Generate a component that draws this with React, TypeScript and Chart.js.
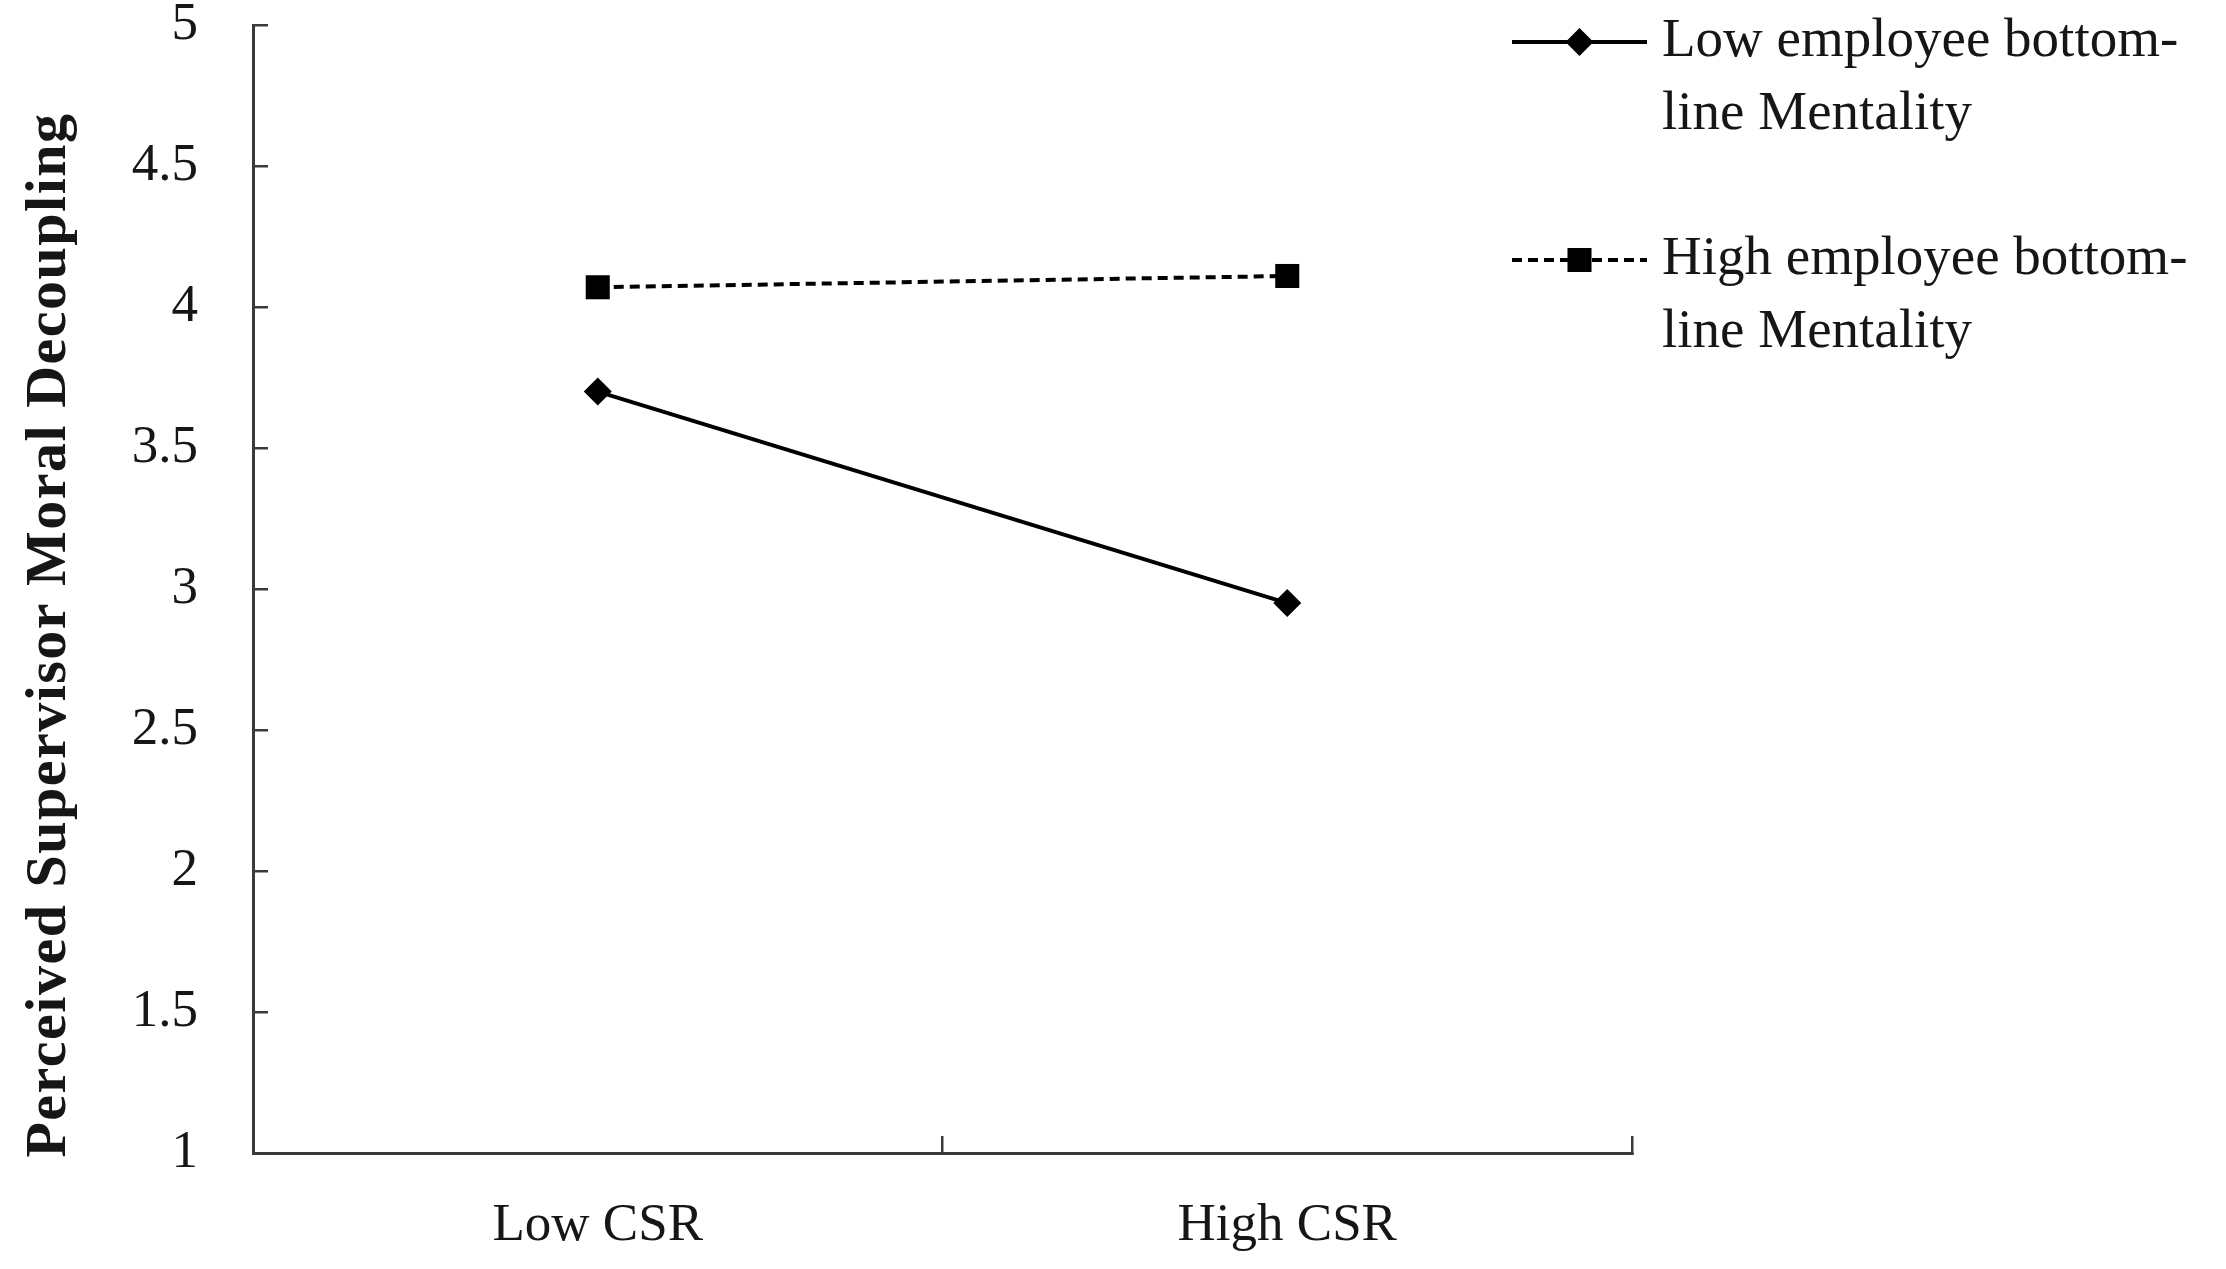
import React, { useEffect, useRef } from 'react';
import { Chart, registerables } from 'chart.js';
import { drawPoint } from 'chart.js/helpers';

Chart.register(...registerables);

// values
const categories = ['Low CSR', 'High CSR'];
const lowBlmValues = [3.7, 2.95];
const highBlmValues = [4.07, 4.11];
const seriesNames = ['Low employee bottom-line Mentality', 'High employee bottom-line Mentality'];
const legendLines = [
  ['Low employee bottom-', 'line Mentality'],
  ['High employee bottom-', 'line Mentality'],
];
const yTicks = [1, 1.5, 2, 2.5, 3, 3.5, 4, 4.5, 5];
const yTitle = 'Perceived Supervisor Moral Decoupling';

const FONT = '"Liberation Serif", "Times New Roman", serif';
const AXIS_COLOR = '#3a3a3a';
const TEXT_COLOR = '#161616';

// legend on the right, two-line labels
const sideLegend = {
  id: 'sideLegend',
  afterDraw(chart: any) {
    const { ctx, chartArea } = chart;
    const x0 = chartArea.right - 120;
    const x1 = x0 + 135;
    const textX = x1 + 15;
    const rows = [42, 260];
    ctx.save();
    chart.data.datasets.forEach((ds: any, i: number) => {
      const y = rows[i];
      ctx.strokeStyle = ds.borderColor;
      ctx.lineWidth = ds.borderWidth;
      ctx.setLineDash(ds.borderDash || []);
      ctx.beginPath();
      ctx.moveTo(x0, y);
      ctx.lineTo(x1, y);
      ctx.stroke();
      ctx.setLineDash([]);
      ctx.fillStyle = ds.pointBackgroundColor;
      drawPoint(ctx, { pointStyle: ds.pointStyle, radius: ds.pointRadius, rotation: 0, borderWidth: 0 } as any, (x0 + x1) / 2, y);

      ctx.fillStyle = TEXT_COLOR;
      ctx.font = `55px ${FONT}`;
      ctx.textAlign = 'left';
      ctx.textBaseline = 'alphabetic';
      legendLines[i].forEach((line, k) => {
        ctx.fillText(line, textX, y + 14 + k * 73);
      });
    });
    ctx.restore();
  },
};

// rotated bold axis title, sits a bit below the axis middle like the original
const yAxisTitle = {
  id: 'yAxisTitle',
  afterDraw(chart: any) {
    const { ctx, chartArea } = chart;
    ctx.save();
    ctx.translate(chartArea.left - 188, (chartArea.top + chartArea.bottom) / 2 + 46);
    ctx.rotate(-Math.PI / 2);
    ctx.font = `bold 58px ${FONT}`;
    (ctx as any).letterSpacing = '1.5px';
    ctx.fillStyle = TEXT_COLOR;
    ctx.textAlign = 'center';
    ctx.textBaseline = 'alphabetic';
    ctx.fillText(yTitle, 0, 0);
    ctx.restore();
  },
};

export default function App() {
  const canvasRef = useRef<HTMLCanvasElement>(null);

  useEffect(() => {
    document.body.style.margin = '0';
    if (!canvasRef.current) return;

    const chart = new Chart(canvasRef.current, {
      type: 'line',
      data: {
        labels: categories,
        datasets: [
          {
            label: seriesNames[0],
            data: lowBlmValues,
            borderColor: '#000',
            borderWidth: 4,
            pointStyle: 'rectRot',
            pointRadius: 14,
            pointBackgroundColor: '#000',
            pointBorderWidth: 0,
            tension: 0,
          },
          {
            label: seriesNames[1],
            data: highBlmValues,
            borderColor: '#000',
            borderWidth: 4,
            borderDash: [10, 6],
            pointStyle: 'rect',
            pointRadius: 17,
            pointBackgroundColor: '#000',
            pointBorderWidth: 0,
            tension: 0,
          },
        ],
      },
      options: {
        responsive: true,
        maintainAspectRatio: false,
        animation: false,
        layout: { padding: { top: 25, right: 594, bottom: 0, left: 0 } },
        plugins: {
          legend: { display: false },
          tooltip: { enabled: false },
        },
        scales: {
          x: {
            type: 'category',
            offset: true,
            afterFit: (scale: any) => {
              scale.height = 116;
              scale.paddingLeft = 0;
              scale.paddingRight = 0;
            },
            grid: {
              offset: true,
              drawOnChartArea: false,
              drawTicks: true,
              tickLength: -17,
              color: AXIS_COLOR,
              lineWidth: 2.5,
            },
            border: { display: true, color: AXIS_COLOR, width: 3 },
            ticks: {
              color: TEXT_COLOR,
              padding: 58,
              font: { family: FONT, size: 53 },
            },
          },
          y: {
            type: 'linear',
            min: 1,
            max: 5,
            afterFit: (scale: any) => {
              scale.width = 253;
              scale.paddingTop = 0;
              scale.paddingBottom = 0;
            },
            afterBuildTicks: (scale: any) => { scale.ticks = yTicks.map(v => ({ value: v })); },
            grid: {
              drawOnChartArea: false,
              drawTicks: true,
              tickLength: -15,
              color: AXIS_COLOR,
              lineWidth: 2.5,
            },
            border: { display: true, color: AXIS_COLOR, width: 3 },
            ticks: {
              color: TEXT_COLOR,
              padding: 70,
              font: { family: FONT, size: 53 },
              callback: (value: any) => String(value),
            },
          },
        },
      },
      plugins: [sideLegend, yAxisTitle],
    });

    return () => {
      chart.destroy();
    };
  }, []);

  return (
    <div style={{ width: '2226px', height: '1269px', position: 'relative', background: '#fff' }}>
      <canvas ref={canvasRef} />
    </div>
  );
}
